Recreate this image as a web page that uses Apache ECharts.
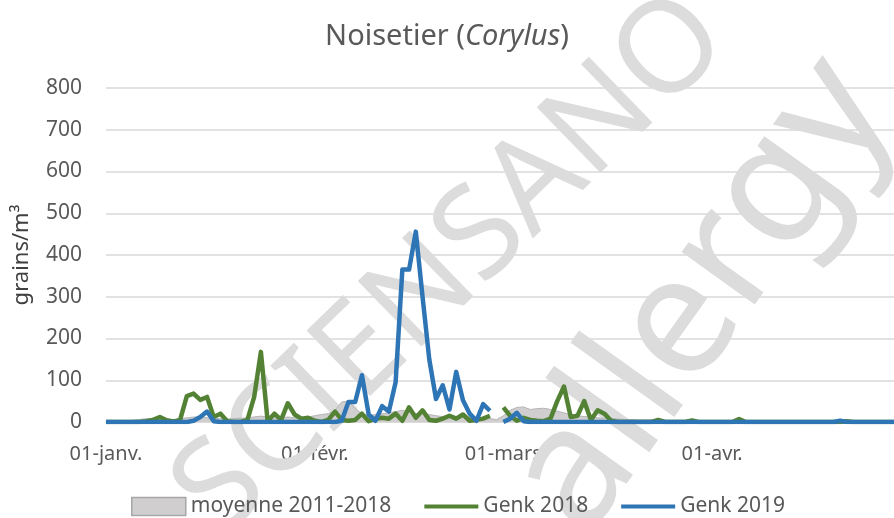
<!DOCTYPE html>
<html>
<head>
<meta charset="utf-8">
<script src="https://cdn.jsdelivr.net/npm/echarts@6/dist/echarts.min.js"></script>
<style>
  html, body { margin: 0; padding: 0; background: #fff; }
  #pollenChart { width: 894px; height: 518px; }
</style>
</head>
<body>
<div id="pollenChart"></div>
<script>
// mois affichés (jusqu'à fin avril, coupé à droite)
const months = ['janv.', 'févr.', 'mars', 'avr.']
const monthDays = [31, 28, 31, 30]
const dayCount = 118

// moyenne 2011-2018 (aire grise)
const moyenne = [
  2, 2, 3, 3, 4, 6, 8, 9, 8, 6, 5, 8, 10, 12, 12, 10, 8, 8, 7, 8,
  9, 10, 12, 14, 12, 10, 10, 12, 10, 10, 12, 15, 18, 20, 28, 48, 50, 32, 20, 15,
  18, 20, 22, 25, 28, 24, 20, 20, 18, 15, 13, 12, 12, 12, 12, 11, 10, 8, 6, 15,
  28, 35, 36, 30, 32, 33, 30, 26, 22, 17, 15, 13, 12, 10, 9, 8, 7, 6, 6, 5,
  5, 5, 4, 4, 4, 4, 4, 4, 3, 3, 3, 3, 3, 3, 3, 3, 3, 3, 3, 3,
  2, 2, 2, 2, 2, 2, 2, 2, 2, 2, 2, 2, 2, 2, 2, 2, 2, 2
]

// Genk 2018
const genk2018 = [
  0, 0, 0, 0, 0, 0, 2, 5, 12, 4, 1, 5, 62, 68, 53, 60, 12, 20, 2, 0,
  0, 5, 60, 168, 2, 20, 5, 45, 18, 8, 10, 3, 0, 5, 25, 5, 3, 5, 20, 2,
  8, 10, 8, 20, 3, 35, 10, 28, 5, 3, 8, 15, 8, 18, 3, 5, 8, 15, null, 35,
  15, 3, 10, 5, 3, 2, 8, 50, 85, 12, 15, 50, 5, 28, 20, 3, 0, 0, 0, 0,
  0, 0, 5, 0, 0, 0, 0, 4, 0, 0, 0, 0, 0, 0, 7, 0, 0, 0, 0, 0,
  0, 0, 0, 0, 0, 0, 0, 0, 0, 0, 2, 0, 0, 0, 0, 0, 0, 0
]

// Genk 2019
const genk2019 = [
  0, 0, 0, 0, 0, 0, 0, 0, 0, 0, 0, 0, 0, 3, 12, 25, 2, 0, 0, 0,
  0, 0, 0, 0, 0, 0, 0, 0, 0, 0, 0, 0, 0, 0, 0, 3, 48, 48, 112, 18,
  3, 38, 25, 95, 365, 365, 456, 300, 150, 55, 88, 30, 120, 52, 20, 3, 43, 27, null, 0,
  8, 22, 2, 0, 0, 0, 0, 0, 0, 0, 0, 0, 0, 0, 0, 0, 0, 0, 0, 0,
  0, 0, 0, 0, 0, 0, 0, 0, 0, 0, 0, 0, 0, 0, 0, 0, 0, 0, 0, 0,
  0, 0, 0, 0, 0, 0, 0, 0, 0, 3, 0, 0, 0, 0, 0, 0, 0, 0
]

// libellés de l'axe des x : 01-janv., 02-janv., ...
const days = []
months.forEach((m, i) => {
  for (let d = 1; d <= monthDays[i]; d++) {
    days.push((d < 10 ? '0' + d : '' + d) + '-' + m)
  }
})
days.length = dayCount

const textColor = '#595959'
const fontFamily = '"Noto Sans", "Open Sans", sans-serif'
// icône de légende : trait horizontal
const lineIcon = 'path://M0,0 M56,18 M0,7 L56,7 L56,11 L0,11 Z'

const myChart = echarts.init(document.getElementById('pollenChart'))

const option = {
  backgroundColor: '#fff',
  animation: false,
  textStyle: { fontFamily: fontFamily, color: textColor },
  title: {
    text: '{a|Noisetier (}{b|Corylus}{a|)}',
    left: 'center',
    top: 17,
    textStyle: {
      fontWeight: 'normal',
      rich: {
        a: { fontSize: 29, color: textColor, fontFamily: fontFamily, fontWeight: 'normal' },
        b: { fontSize: 29, color: textColor, fontFamily: fontFamily, fontWeight: 'normal', fontStyle: 'italic' }
      }
    }
  },
  legend: {
    top: 491,
    left: 126,
    itemWidth: 54,
    itemHeight: 18,
    itemGap: 33,
    textStyle: { fontSize: 21, color: textColor, fontFamily: fontFamily },
    data: [
      { name: 'moyenne 2011-2018', icon: 'rect', itemStyle: { color: '#d0cece', borderColor: '#a6a6a6', borderWidth: 1.5 } },
      { name: 'Genk 2018', icon: lineIcon, itemStyle: { color: '#548235', borderWidth: 0 } },
      { name: 'Genk 2019', icon: lineIcon, itemStyle: { color: '#2e75b6', borderWidth: 0 } }
    ]
  },
  grid: {
    left: 106,
    right: 0,
    top: 88,
    bottom: 96
  },
  xAxis: {
    type: 'category',
    boundaryGap: false,
    data: days,
    axisTick: { show: false },
    axisLine: { lineStyle: { color: '#d9d9d9', width: 1.5 } },
    axisLabel: {
      interval: (index, value) => value.indexOf('01-') === 0,
      fontSize: 20,
      color: textColor,
      margin: 22
    },
    splitLine: { show: false }
  },
  yAxis: {
    type: 'value',
    min: 0,
    max: 800,
    interval: 100,
    name: 'grains/m³',
    nameLocation: 'middle',
    nameRotate: 90,
    nameGap: 73,
    nameTextStyle: { fontSize: 22, color: '#404040', fontFamily: fontFamily },
    axisLabel: { fontSize: 21, color: textColor, margin: 24 },
    axisLine: { show: false },
    axisTick: { show: false },
    splitLine: { lineStyle: { color: '#d9d9d9', width: 1.5 } }
  },
  graphic: [
    // filigrane
    {
      type: 'text',
      x: 452,
      y: 266,
      rotation: 0.77,
      z: 1,
      silent: true,
      style: { text: 'SCIENSANO', font: '128px "Noto Sans"', fill: '#dcdcdc', align: 'center', verticalAlign: 'middle' }
    },
    {
      type: 'text',
      x: 702,
      y: 296,
      rotation: 0.95,
      z: 1,
      silent: true,
      style: { text: 'allergy', font: '168px "Noto Sans"', fill: '#dcdcdc', align: 'center', verticalAlign: 'middle' }
    }
  ],
  series: [
    {
      name: 'moyenne 2011-2018',
      type: 'line',
      data: moyenne,
      symbol: 'none',
      z: 2,
      lineStyle: { color: '#b4b4b4', width: 1 },
      itemStyle: { color: '#d0cece' },
      areaStyle: { color: '#d0cece', opacity: 1 }
    },
    {
      name: 'Genk 2018',
      type: 'line',
      data: genk2018,
      symbol: 'none',
      z: 3,
      lineStyle: { color: '#548235', width: 4.5, join: 'round' },
      itemStyle: { color: '#548235' }
    },
    {
      name: 'Genk 2019',
      type: 'line',
      data: genk2019,
      symbol: 'none',
      z: 4,
      lineStyle: { color: '#2e75b6', width: 4.5, join: 'round' },
      itemStyle: { color: '#2e75b6' }
    }
  ]
}

myChart.setOption(option)
</script>
</body>
</html>
